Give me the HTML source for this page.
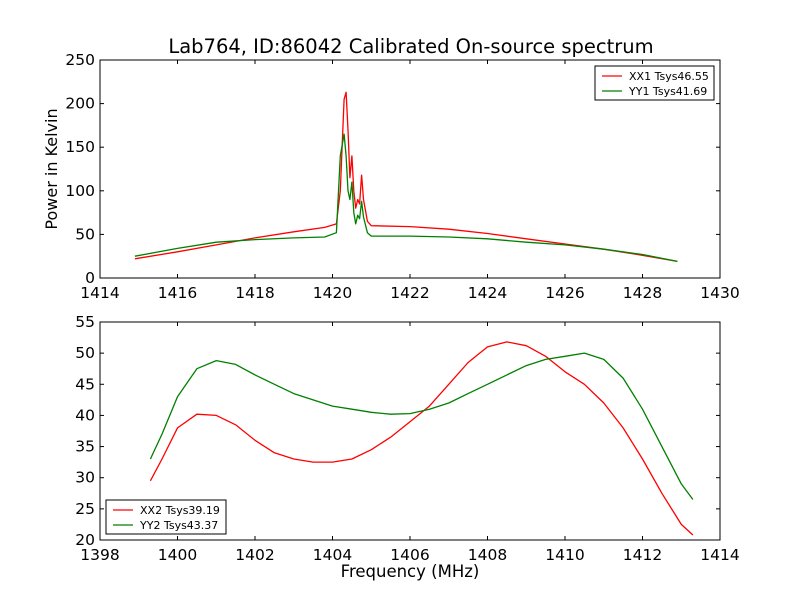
<!DOCTYPE html>
<html><head><meta charset="utf-8"><style>
body{margin:0;background:#fff;}
svg{font-family:"DejaVu Sans","Liberation Sans",sans-serif;}
</style></head><body>
<svg id="c" width="800" height="600" viewBox="0 0 800 600">
<rect width="800" height="600" fill="#fff"/>
<text x="411" y="53" font-size="19.5" text-anchor="middle">Lab764, ID:86042 Calibrated On-source spectrum</text>
<text x="57" y="169" font-size="16" text-anchor="middle" transform="rotate(-90 57 169)">Power in Kelvin</text>
<text x="410" y="577" font-size="16.5" text-anchor="middle">Frequency (MHz)</text>
</svg>
<script>
const topFreqX = [1414.9,1416,1417,1418,1419,1419.8,1420.1,1420.2,1420.3,1420.35,1420.4,1420.45,1420.5,1420.55,1420.6,1420.65,1420.7,1420.75,1420.8,1420.9,1421,1422,1423,1424,1425,1426,1427,1428,1428.9];
const xx1Values = [22,30,38,46,53,58,62,100,205,213,170,115,140,100,80,90,85,118,90,65,60,59,56,51,45,39,33,26,19];
const yy1Values = [25,34,41,44,46,47,52,140,165,140,100,90,110,75,62,72,68,88,70,52,48,48,47,45,41,38,33,27,19];
const botFreqX = [1399.3,1399.6,1400,1400.5,1401,1401.5,1402,1402.5,1403,1403.5,1404,1404.5,1405,1405.5,1406,1406.5,1407,1407.5,1408,1408.5,1409,1409.5,1410,1410.5,1411,1411.5,1412,1412.5,1413,1413.3];
const xx2Values = [29.5,33,38,40.2,40,38.5,36,34,33,32.5,32.5,33,34.5,36.5,39,41.5,45,48.5,51,51.8,51.2,49.5,47,45,42,38,33,27.5,22.5,20.8];
const yy2Values = [33,37,43,47.5,48.8,48.2,46.5,45,43.5,42.5,41.5,41,40.5,40.2,40.3,41,42,43.5,45,46.5,48,49,49.5,50,49,46,41,35,29,26.5];
const topXTicks = ['1414','1416','1418','1420','1422','1424','1426','1428','1430'];
const topYTicks = ['0','50','100','150','200','250'];
const botXTicks = ['1398','1400','1402','1404','1406','1408','1410','1412','1414'];
const botYTicks = ['20','25','30','35','40','45','50','55'];

const NS='http://www.w3.org/2000/svg';
const svg=document.getElementById('c');
function mk(t,a){const e=document.createElementNS(NS,t);for(const k in a)e.setAttribute(k,a[k]);svg.appendChild(e);return e;}

function panel(p){
  const sx=v=>p.x0+(v-p.xmin)/(p.xmax-p.xmin)*(p.x1-p.x0);
  const sy=v=>p.y1-(v-p.ymin)/(p.ymax-p.ymin)*(p.y1-p.y0);
  p.series.forEach(s=>{
    const d=s.x.map((v,i)=>(i?'L':'M')+sx(v).toFixed(1)+' '+sy(s.y[i]).toFixed(1)).join(' ');
    const e=mk('path',{d:d,fill:'none',stroke:s.color,'stroke-width':1.3,'stroke-linejoin':'round'});
    
    
  });
  p.xt.forEach(t=>{
    const X=sx(+t);
    mk('line',{x1:X,x2:X,y1:p.y1,y2:p.y1-4,stroke:'#000'});
    mk('line',{x1:X,x2:X,y1:p.y0,y2:p.y0+4,stroke:'#000'});
    const e=mk('text',{x:X,y:p.y1+20,'font-size':15.5,'text-anchor':'middle'});e.textContent=t;
    
    
  });
  p.yt.forEach(t=>{
    const Y=sy(+t);
    mk('line',{x1:p.x0,x2:p.x0+4,y1:Y,y2:Y,stroke:'#000'});
    mk('line',{x1:p.x1,x2:p.x1-4,y1:Y,y2:Y,stroke:'#000'});
    const e=mk('text',{x:p.x0-5,y:Y+5,'font-size':15.5,'text-anchor':'end'});e.textContent=t;
    
    
  });
  const f=mk('rect',{x:p.x0,y:p.y0,width:p.x1-p.x0,height:p.y1-p.y0,fill:'none',stroke:'#000'});
  
  
  const L=p.leg;
  const lb=mk('rect',{x:L.x,y:L.y,width:L.w,height:34,fill:'#fff',stroke:'#000'});
  
  
  p.series.forEach((s,i)=>{
    const yy=L.y+10+i*15;
    mk('line',{x1:L.x+7,x2:L.x+27,y1:yy,y2:yy,stroke:s.color,'stroke-width':1.2});
    const e=mk('text',{x:L.x+34,y:yy+4,'font-size':11});e.textContent=s.label;
    
    
  });
}
panel({name:'top-plot-area',x0:100,x1:720,y0:60,y1:278,xmin:1414,xmax:1430,ymin:0,ymax:250,xt:topXTicks,yt:topYTicks,
  leg:{x:595,y:66,w:119},
  series:[{x:topFreqX,y:xx1Values,color:'#f00',name:'xx1-line',label:'XX1 Tsys46.55'},{x:topFreqX,y:yy1Values,color:'#008000',name:'yy1-line',label:'YY1 Tsys41.69'}]});
panel({name:'bottom-plot-area',x0:100,x1:720,y0:322,y1:540,xmin:1398,xmax:1414,ymin:20,ymax:55,xt:botXTicks,yt:botYTicks,
  leg:{x:106,y:500,w:120},
  series:[{x:botFreqX,y:xx2Values,color:'#f00',name:'xx2-line',label:'XX2 Tsys39.19'},{x:botFreqX,y:yy2Values,color:'#008000',name:'yy2-line',label:'YY2 Tsys43.37'}]});
</script>
</body></html>
